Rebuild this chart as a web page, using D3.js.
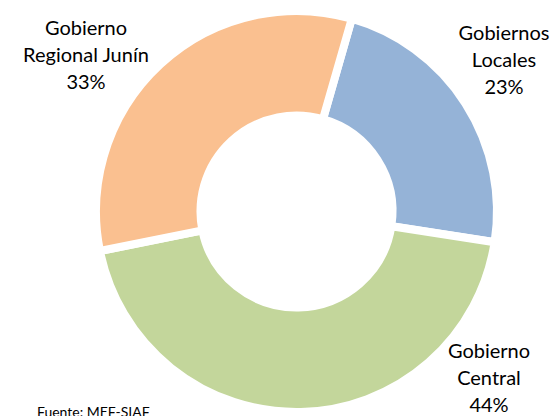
<!DOCTYPE html>
<html>
<head>
<meta charset="utf-8">
<script src="https://cdn.jsdelivr.net/npm/d3@7"></script>
<style>
  html, body { margin: 0; padding: 0; background: #fff; overflow: hidden; }
  text { font-family: Lato, "Open Sans", sans-serif; fill: #000; }
</style>
</head>
<body>
<div id="app"></div>
<script>
// data
const categories = ['Gobiernos Locales', 'Gobierno Central', 'Gobierno Regional Junín'];
const values = [23.0, 44.4, 32.6];
const colors = ['#95B3D7', '#C3D69B', '#FAC090'];
// label lines as drawn in the chart (manual line breaks)
const labelLines = [['Gobiernos', 'Locales'], ['Gobierno', 'Central'], ['Gobierno', 'Regional Junín']];
const source = 'Fuente: MEF-SIAF';

let width = 553;
let height = 416;
let cx = 296.5;
let cy = 211.5;
let outerR = 200.5;
let innerR = 96;
let gap = 8; // white stroke between slices
let startAngle = 16 * Math.PI / 180;

// label anchors (centre x, first baseline y), manually placed like in the original
const labelPos = [
	{ x: 504, y: 40 },
	{ x: 489, y: 358 },
	{ x: 86, y: 35 }
];
let lineH = 27;

const svg = d3.create('svg').attr('width', width).attr('height', height).attr('viewBox', [0, 0, width, height]);

const pie = d3.pie().sort(null).value((d) => d).startAngle(startAngle).endAngle(startAngle + 2 * Math.PI);
const arc = d3.arc().innerRadius(innerR).outerRadius(outerR);
const arcs = pie(values);

const g = svg.append('g').attr('transform', `translate(${cx},${cy})`);

g.selectAll('path.slice')
	.data(arcs)
	.join('path')
	.attr('class', 'slice')
	.attr('d', arc)
	.attr('fill', (d, i) => colors[i])
	.attr('stroke', '#fff')
	.attr('stroke-width', gap)
	.attr('stroke-linejoin', 'miter');

const total = d3.sum(values);

const labels = svg
	.selectAll('text.label')
	.data(arcs)
	.join('text')
	.attr('class', 'label')
	.attr('text-anchor', 'middle')
	.style('font-size', '20px');

labels.each(function (d, i) {
	const t = d3.select(this);
	const lines = labelLines[i].concat([Math.round((d.value / total) * 100) + '%']);
	lines.forEach((s, j) => {
		t.append('tspan')
			.attr('x', labelPos[i].x)
			.attr('y', labelPos[i].y + j * lineH)
			.text(s);
	});
});

// source note, partly cut off by the bottom edge as in the original
svg.append('text')
	.attr('x', 37)
	.attr('y', 417)
	.style('font-size', '14px')
	.text(source);

document.getElementById('app').append(svg.node());
</script>
</body>
</html>
